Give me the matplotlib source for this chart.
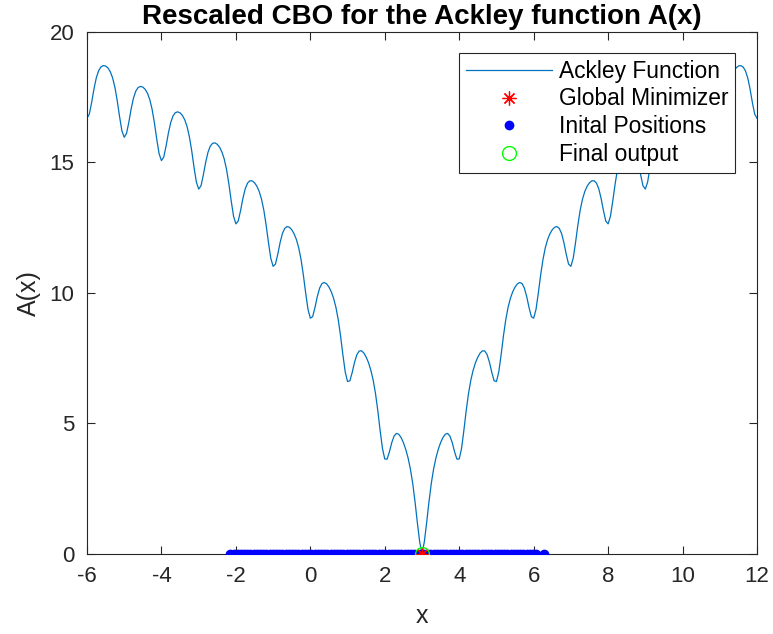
import matplotlib
matplotlib.use("Agg")
import matplotlib.pyplot as plt
import numpy as np

# ======================================================
# DATA
# ======================================================

# Ackley curve, minimizer at x = 3; values every 1/16 going outwards
# from the minimum (d = |x - 3| = 0 .. 9), mirrored for the left side
ackley_half = [
    0.000, 0.447, 1.184, 1.988, 2.693, 3.247, 3.670, 3.996,
    4.253, 4.449, 4.575, 4.605, 4.504, 4.252, 3.901, 3.619,
    3.625, 4.027, 4.720, 5.480, 6.142, 6.653, 7.034, 7.319,
    7.534, 7.689, 7.774, 7.765, 7.624, 7.333, 6.944, 6.624,
    6.594, 6.960, 7.615, 8.339, 8.965, 9.441, 9.787, 10.038,
    10.219, 10.341, 10.394, 10.352, 10.179, 9.856, 9.436, 9.085,
    9.024, 9.359, 9.985, 10.680, 11.277, 11.725, 12.042, 12.264,
    12.418, 12.512, 12.538, 12.469, 12.271, 11.922, 11.476, 11.099,
    11.013, 11.324, 11.925, 12.596, 13.170, 13.594, 13.888, 14.088,
    14.219, 14.291, 14.294, 14.204, 13.983, 13.613, 13.146, 12.749,
    12.642, 12.932, 13.514, 14.165, 14.719, 15.124, 15.399, 15.580,
    15.693, 15.747, 15.732, 15.624, 15.385, 14.998, 14.514, 14.100,
    13.976, 14.250, 14.815, 15.450, 15.988, 16.377, 16.636, 16.801,
    16.899, 16.938, 16.909, 16.786, 16.533, 16.131, 15.633, 15.205,
    15.068, 15.328, 15.880, 16.502, 17.027, 17.403, 17.649, 17.802,
    17.887, 17.913, 17.873, 17.738, 17.473, 17.060, 16.550, 16.110,
    15.962, 16.211, 16.752, 17.363, 17.877, 18.243, 18.479, 18.622,
    18.696, 18.712, 18.662, 18.517, 18.243, 17.820, 17.300, 16.851,
    16.694,
]
ackley_y = ackley_half[::-1] + ackley_half[1:]
ackley_x = np.linspace(-6, 12, len(ackley_y))

global_min = (3.0, 0.0)
final_output = (3.0, 0.0)

init_positions = [
    -2.15, -2.05, -1.95, -1.86, -1.78, -1.70, -1.61, -1.52, -1.44, -1.35,
    -1.27, -1.18, -1.09, -1.01, -0.92, -0.83, -0.75, -0.66, -0.58, -0.49,
    -0.40, -0.32, -0.23, -0.14, -0.06, 0.03, 0.12, 0.20, 0.29, 0.37,
    0.46, 0.55, 0.63, 0.72, 0.81, 0.89, 0.98, 1.06, 1.15, 1.24,
    1.32, 1.41, 1.50, 1.58, 1.67, 1.75, 1.84, 1.93, 2.01, 2.10,
    2.19, 2.27, 2.36, 2.44, 2.53, 2.62, 2.70, 2.79, 2.88, 2.96,
    3.05, 3.13, 3.22, 3.31, 3.39, 3.48, 3.57, 3.65, 3.74, 3.82,
    3.91, 4.00, 4.08, 4.17, 4.26, 4.34, 4.43, 4.51, 4.60, 4.69,
    4.77, 4.86, 4.95, 5.03, 5.12, 5.20, 5.29, 5.38, 5.46, 5.55,
    5.64, 5.72, 5.81, 5.89, 5.97, 6.05, 6.29,
]

x_ticks = [-6, -4, -2, 0, 2, 4, 6, 8, 10, 12]
y_ticks = [0, 5, 10, 15, 20]

# ======================================================
# PLOT
# ======================================================

plt.rcParams["font.family"] = ["Liberation Sans", "DejaVu Sans"]
plt.rcParams["axes.unicode_minus"] = False
ax_col = "#262626"

fig = plt.figure(figsize=(7.73, 6.34), dpi=100)
ax = fig.add_axes([87 / 773, 1 - 553.5 / 634, 670 / 773, 521.5 / 634])

ax.plot(ackley_x, ackley_y, color="#0072BD", lw=0.9, label="Ackley Function")
ax.plot([global_min[0]], [global_min[1]], color="red", ls="none",
        marker=(8, 2, 0), ms=10, mew=0.9, label="Global Minimizer", zorder=4)
ax.plot(init_positions, np.zeros(len(init_positions)), "b.", ms=12,
        label="Inital Positions", zorder=3)
ax.plot([final_output[0]], [final_output[1]], "o", mfc="none", mec="#00FF00",
        ms=10, mew=1.0, label="Final output", zorder=5)

ax.set_xlim(-6, 12)
ax.set_ylim(0, 20)
ax.set_xticks(x_ticks)
ax.set_yticks(y_ticks)
ax.tick_params(direction="in", length=6, width=0.8, top=True, right=True,
               labelsize=16, colors=ax_col, pad=9)
for s in ax.spines.values():
    s.set_color(ax_col)
    s.set_linewidth(0.8)

ax.set_xlabel("x", fontsize=18, color=ax_col, labelpad=12)
ax.set_ylabel("A(x)", fontsize=18, color=ax_col, labelpad=6)
ax.set_title("Rescaled CBO for the Ackley function A(x)", fontsize=20,
             fontweight="bold", pad=6)

leg = ax.legend(loc="upper right", bbox_to_anchor=(0.967, 0.960), fontsize=16.4,
                handlelength=3.75, handletextpad=0.3, labelspacing=0.21,
                borderpad=0.3, fancybox=False, framealpha=1, edgecolor=ax_col,
                borderaxespad=0)
leg.get_frame().set_linewidth(0.8)

fig.savefig("out.png", dpi=100)
